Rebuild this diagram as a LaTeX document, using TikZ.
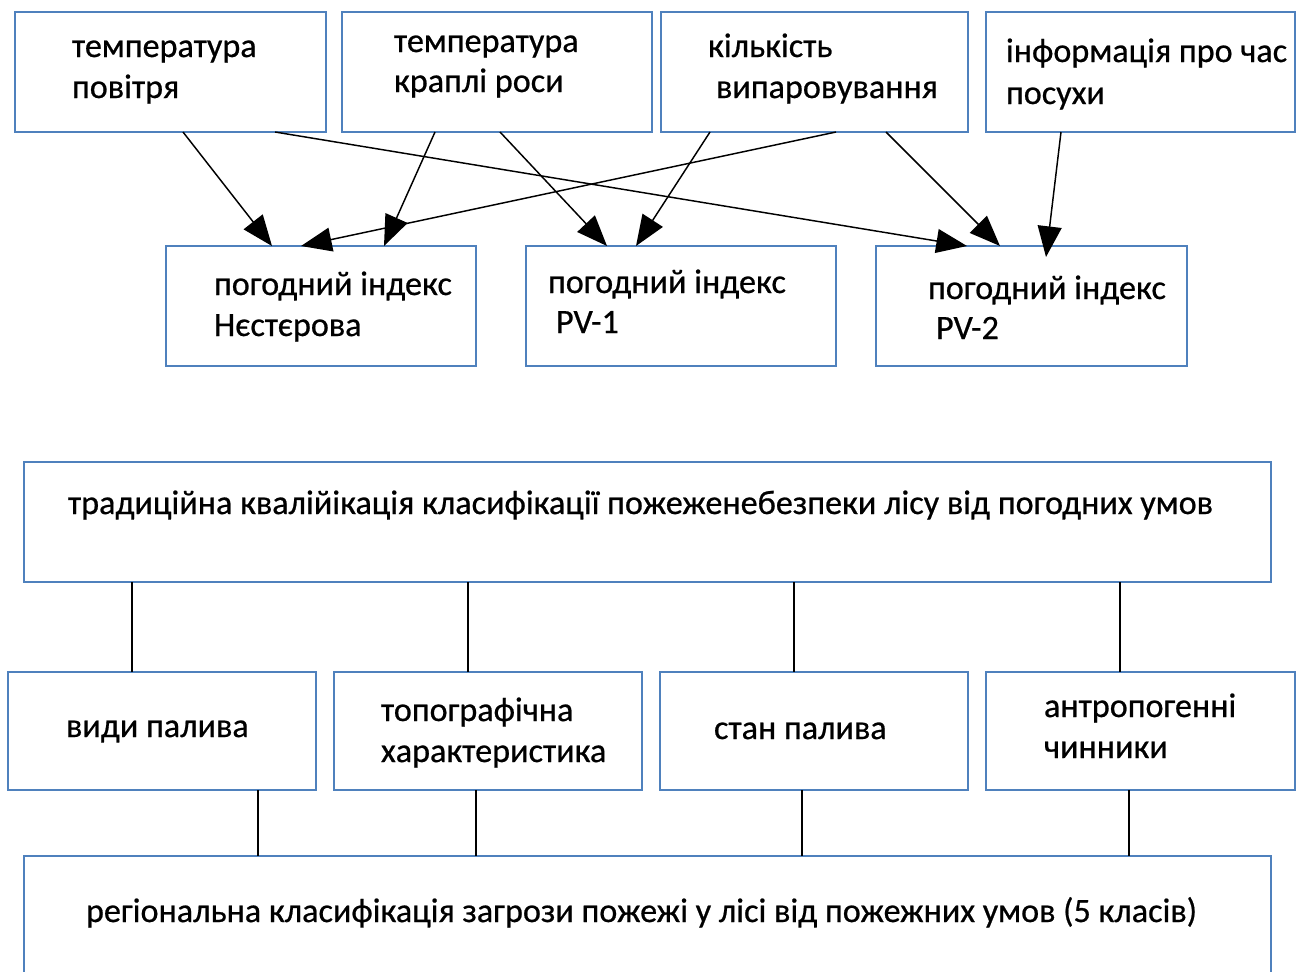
\documentclass[tikz,border=0pt]{standalone}
\usepackage{fontspec}
\setmainfont{Carlito}[FakeBold=0.6]
\usetikzlibrary{arrows.meta,calc}
\definecolor{boxblue}{HTML}{4F81BD}
\tikzset{
  box/.style={draw=boxblue, line width=1.3pt, fill=white, inner sep=0pt, outer sep=0pt},
  lbl/.style={anchor=base west, inner sep=0pt, outer sep=0pt, font=\fontsize{25.6}{30}\selectfont},
  arr/.style={draw=black, line width=1.1pt, -{Triangle[length=23pt, width=18pt]}},
  link/.style={draw=black, line width=1pt},
}
\newcommand\mkbox[5]{\node[box, minimum width=#4*0.75pt, minimum height=#5*0.75pt] (#1) at (#2,#3) {};}
\begin{document}
\begin{tikzpicture}[x=0.75pt, y=-0.75pt]
\useasboundingbox (0,0) rectangle (1305,971);
\clip (0,0) rectangle (1305,971);

% input parameters
\mkbox{b1}{170.5}{72}{311}{120}
\mkbox{b2}{497}{72}{310}{120}
\mkbox{b3}{814.5}{72}{307}{120}
\mkbox{b4}{1140.5}{72}{309}{120}
% weather indices
\mkbox{n1}{321}{306}{310}{120}
\mkbox{n2}{681}{306}{310}{120}
\mkbox{n3}{1031.5}{306}{311}{120}
% classification scheme
\mkbox{t}{647.5}{522}{1247}{120}
\mkbox{f1}{162}{731}{308}{118}
\mkbox{f2}{488}{731}{308}{118}
\mkbox{f3}{814}{731}{308}{118}
\mkbox{f4}{1140.5}{731}{309}{118}
\mkbox{r}{647.5}{931}{1247}{150}

% labels
\node[lbl] at (72,57) {температура};
\node[lbl] at (72,98) {повітря};
\node[lbl] at (394,52) {температура};
\node[lbl] at (394,92) {краплі роси};
\node[lbl] at (708,57) {кількість};
\node[lbl] at (716,98) {випаровування};
\node[lbl] at (1006,62) {інформація про час};
\node[lbl] at (1006,104) {посухи};

\node[lbl] at (214,295) {погодний індекс};
\node[lbl] at (214,336) {Нєстєрова};
\node[lbl] at (548,293) {погодний індекс};
\node[lbl] at (556,333) {PV-1};
\node[lbl] at (928,299) {погодний індекс};
\node[lbl] at (936,339) {PV-2};

\node[lbl] at (68,514) {традиційна квалійікація класифікації пожеженебезпеки лісу від погодних умов};
\node[lbl] at (66,737) {види палива};
\node[lbl] at (381,721) {топографічна};
\node[lbl] at (381,762) {характеристика};
\node[lbl] at (714,739) {стан палива};
\node[lbl] at (1044,717) {антропогенні};
\node[lbl] at (1044,758) {чинники};
\node[lbl] at (86,922) {регіональна класифікація загрози пожежі у лісі від пожежних умов (5 класів)};

% arrows from inputs to indices
\draw[arr] ($(b1.south west)+(168,0)$) -- ($(n1.north west)+(106,0)$);
\draw[arr] ($(b1.south west)+(260,0)$) -- ($(n3.north west)+(91,0)$);
\draw[arr] ($(b2.south west)+(93,0)$) -- ($(n1.north west)+(218,0)$);
\draw[arr] ($(b2.south west)+(158,0)$) -- ($(n2.north west)+(81,0)$);
\draw[arr] ($(b3.south west)+(49,0)$) -- ($(n2.north west)+(110,0)$);
\draw[arr] ($(b3.south west)+(175,0)$) -- ($(n1.north west)+(135,0)$);
\draw[arr] ($(b3.south west)+(225,0)$) -- ($(n3.north west)+(124,0)$);
\draw[arr] ($(b4.south west)+(75,0)$) -- ($(n3.north west)+(170,11)$);

% links of the classification scheme
\draw[link] ($(t.south west)+(108,0)$) -- ($(f1.north west)+(124,0)$);
\draw[link] ($(t.south west)+(444,0)$) -- ($(f2.north west)+(134,0)$);
\draw[link] ($(t.south west)+(770,0)$) -- ($(f3.north west)+(134,0)$);
\draw[link] ($(t.south west)+(1096,0)$) -- ($(f4.north west)+(134,0)$);
\draw[link] ($(f1.south west)+(250,0)$) -- ($(r.north west)+(234,0)$);
\draw[link] ($(f2.south west)+(142,0)$) -- ($(r.north west)+(452,0)$);
\draw[link] ($(f3.south west)+(142,0)$) -- ($(r.north west)+(778,0)$);
\draw[link] ($(f4.south west)+(143,0)$) -- ($(r.north west)+(1105,0)$);
\end{tikzpicture}
\end{document}
